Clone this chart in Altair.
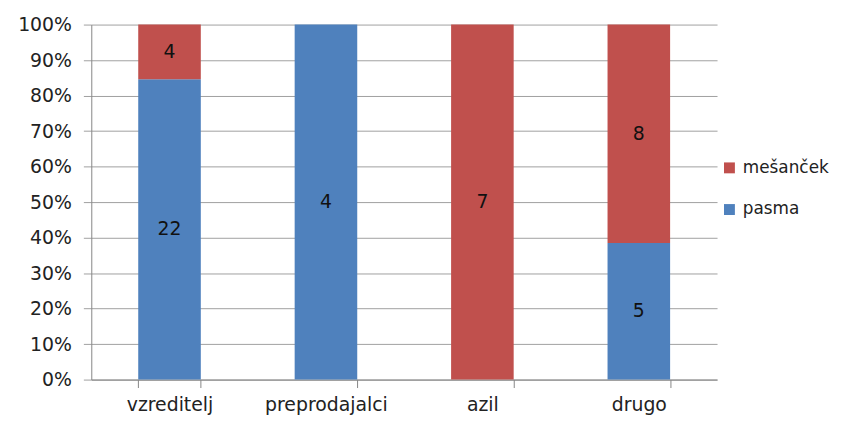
import altair as alt
import pandas as pd

categories = ["vzreditelj", "preprodajalci", "azil", "drugo"]
pasma = [22, 4, 0, 5]
mesancek = [4, 0, 7, 8]
series = ["pasma", "mešanček"]
y_ticks = [0, 0.1, 0.2, 0.3, 0.4, 0.5, 0.6, 0.7, 0.8, 0.9, 1.0]

rows = []
for i, c in enumerate(categories):
    rows.append({"cat": c, "series": "pasma", "n": pasma[i], "ord": 0})
    rows.append({"cat": c, "series": "mešanček", "n": mesancek[i], "ord": 1})
df = pd.DataFrame(rows)

FONT = "DejaVu Sans"
FS = 19
base = alt.Chart(df).transform_filter(alt.datum.n > 0)

xaxis = alt.Axis(labelAngle=0, tickBand="extent", labelFont=FONT, labelFontSize=FS,
                 labelColor="#222", labelPadding=8, tickSize=8, tickColor="#868686",
                 domainColor="#868686", grid=False)
yaxis = alt.Axis(format=".0%", values=y_ticks, labelFont=FONT, labelOverlap=False,
                 labelFontSize=FS, labelColor="#222", tickSize=8, tickColor="#A0A0A0",
                 domainColor="#868686", gridColor="#A0A0A0", labelPadding=12)
xscale = alt.Scale(paddingInner=0.6, paddingOuter=0.3)
yscale = alt.Scale(domain=[0, 1])

bars = base.mark_bar().encode(
    x=alt.X("cat:N", sort=categories, title=None, scale=xscale, axis=xaxis),
    y=alt.Y("n:Q", stack="normalize", title=None, scale=yscale, axis=yaxis),
    color=alt.Color("series:N", scale=alt.Scale(domain=["mešanček", "pasma"], range=["#C0504D", "#4F81BD"]),
                    legend=alt.Legend(title=None, orient="none", legendX=635, legendY=136,
                                      symbolType="square", symbolSize=121, symbolStrokeWidth=0,
                                      labelFont=FONT, labelFontSize=17, labelColor="#222",
                                      rowPadding=24, labelOffset=5)),
    order=alt.Order("ord:Q", sort="ascending"),
)

labels = base.transform_joinaggregate(total="sum(n)", groupby=["cat"]).transform_window(
    cum="sum(n)", groupby=["cat"], sort=[alt.SortField("ord", order="ascending")],
    frame=[None, 0]
).transform_calculate(mid="(datum.cum - datum.n/2)/datum.total").mark_text(
    font=FONT, fontSize=FS, color="#111"
).encode(
    x=alt.X("cat:N", sort=categories, title=None, scale=xscale, axis=xaxis),
    y=alt.Y("mid:Q", title=None, scale=yscale, axis=yaxis),
    text="n:Q",
)

chart = alt.layer(bars, labels).properties(
    width=631, height=358,
    autosize=alt.AutoSizeParams(type="none"),
    padding={"left": 84, "top": 15, "right": 125, "bottom": 36},
).configure_view(stroke=None).configure_axis(domainWidth=1, tickWidth=1, gridWidth=1)

chart.save("out.html", embed_options={"renderer": "svg", "actions": False})
